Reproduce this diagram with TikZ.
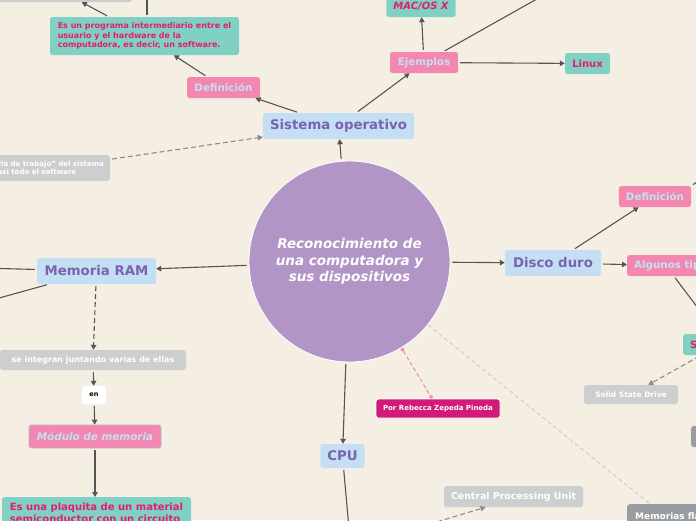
\documentclass[tikz,border=0pt]{standalone}
\usepackage{fontspec}
\setmainfont{DejaVu Sans}
\usetikzlibrary{arrows.meta}
\definecolor{bgcream}{HTML}{F5EFE3}
\definecolor{topicblue}{HTML}{C4DFF3}
\definecolor{topicpurple}{HTML}{7B62AE}
\definecolor{subpink}{HTML}{F387B0}
\definecolor{leafteal}{HTML}{80D0C4}
\definecolor{leafred}{HTML}{E31C6E}
\definecolor{notegray}{HTML}{CDCED0}
\definecolor{darkgray}{HTML}{989DA2}
\definecolor{circpurple}{HTML}{B295C7}
\definecolor{porpink}{HTML}{D11A7A}
\definecolor{pinkline}{HTML}{F08AB4}
\definecolor{linkgray}{HTML}{555555}
\definecolor{dashgray}{HTML}{8C8C8C}
\definecolor{faintgray}{HTML}{CACBCD}
\definecolor{modborder}{HTML}{B9B6CF}

\begin{document}
\begin{tikzpicture}[x=1pt,y=-1pt,
    box/.style={rounded corners=2.5pt, inner xsep=7pt, inner ysep=2pt},
    topic/.style={box, fill=topicblue, text=topicpurple, minimum height=26pt,
      font=\fontsize{13.3}{15}\selectfont\bfseries},
    sub/.style={box, fill=subpink, text=topicblue, minimum height=21pt,
      font=\fontsize{10.3}{12}\selectfont\bfseries},
    leaf/.style={box, fill=leafteal, text=leafred, minimum height=21pt,
      font=\fontsize{10}{12}\selectfont\bfseries},
    note/.style={box, fill=notegray, text=white,
      font=\fontsize{7.5}{9}\selectfont\bfseries},
    darknote/.style={box, fill=darkgray, text=white,
      font=\fontsize{9}{11}\selectfont\bfseries},
    link/.style={draw=linkgray, line width=1.1pt, shorten <=2pt,
      -{Triangle[length=5pt,width=5.5pt]}},
    dlink/.style={link, draw=dashgray, dash pattern=on 5pt off 3pt},
    plink/.style={draw=pinkline, line width=1pt, dash pattern=on 4pt off 2.5pt,
      {Circle[length=4pt]}-{Circle[length=4pt]}},
    faint/.style={draw=faintgray, line width=0.9pt, dash pattern=on 4pt off 3pt}]
  \useasboundingbox (0,0) rectangle (696,520);
  \clip (0,0) rectangle (696,520);
  \fill[bgcream] (0,0) rectangle (696,520);

  \node[circle, fill=circpurple, draw=white, line width=0.8pt, minimum size=201pt,
    text=white, align=center, font=\fontsize{13.5}{16.5}\selectfont\bfseries\itshape]
    (circ) at (349.5,261.5) {Reconocimiento de\\una computadora y\\sus dispositivos};

  \node[topic, minimum width=151pt] (sis) at (338.5,126) {Sistema operativo};
  \node[sub, minimum width=73pt] (defL) at (223.5,87.5) {Definición};
  \node[leaf, align=left, minimum width=189pt, minimum height=38pt,
    font=\fontsize{8}{9.6}\selectfont\bfseries] (tealA) at (144.5,36)
    {Es un programa intermediario entre el\\usuario y el hardware de la\\computadora, es decir, un software.};
  \node[note, minimum width=142pt, minimum height=22pt] (grayTop) at (61,-9) {};
  \node[sub, minimum width=68pt] (ejem) at (424,62.5) {Ejemplos};
  \node[leaf, minimum width=68pt, minimum height=22pt,
    font=\fontsize{10}{12}\selectfont\bfseries\itshape] (mac) at (421,6) {MAC/OS X};
  \node[leaf, minimum width=45pt] (linux) at (587.5,63.5) {Linux};
  \node[note, anchor=east, align=left, minimum height=26pt, inner xsep=6pt,
    font=\fontsize{7}{8.5}\selectfont\bfseries] (noteL) at (110,168)
    {ria de trabajo" del sistema\\asi todo el software};

  \node[topic, minimum width=119pt] (ram) at (96.5,271) {Memoria RAM};
  \node[note, minimum width=186pt, minimum height=20pt,
    font=\fontsize{8}{10}\selectfont\bfseries] (integ) at (93,360) {se integran juntando varias de ellas};
  \node[box, fill=white, text=black, minimum width=24pt, minimum height=18pt, inner xsep=3pt,
    font=\fontsize{6.5}{8}\selectfont\bfseries] (en) at (94,395) {en};
  \node[sub, draw=modborder, line width=0.8pt, minimum width=132pt, minimum height=23pt,
    font=\fontsize{10.4}{12}\selectfont\bfseries\itshape] (modulo) at (95,436.5) {Módulo de memoria};
  \node[leaf, anchor=north, align=left, minimum width=189pt, inner ysep=6pt] (tealB) at (96.5,497)
    {Es una plaquita de un material\\semiconductor con un circuito};

  \node[topic, minimum width=41pt, minimum height=24pt] (cpu) at (342.5,456) {CPU};
  \node[box, fill=porpink, draw=white, line width=0.8pt, text=white, minimum width=124pt,
    minimum height=19pt, font=\fontsize{7}{8.5}\selectfont\bfseries] (por) at (438,408.5)
    {Por Rebecca Zepeda Pineda};
  \node[note, minimum width=139pt, minimum height=21pt,
    font=\fontsize{9.4}{11}\selectfont\bfseries] (cpuU) at (513.5,496.5) {Central Processing Unit};
  \node[darknote, anchor=north west, minimum height=24pt, inner xsep=8pt] (memf) at (627,504) {Memorias flash};

  \node[topic, minimum width=96pt] (disco) at (553,263) {Disco duro};
  \node[sub, minimum width=70pt] (defR) at (655,196.5) {Definición};
  \node[sub, anchor=west] (alg) at (627,265.5) {Algunos tipos};
  \node[leaf, anchor=west, text width=60pt, align=left] (sBox) at (683,344.5) {S};
  \node[note, minimum width=94pt, minimum height=19pt] (ssd) at (631,394.5) {Solid State Drive};
  \node[darknote, anchor=west, minimum width=40pt, minimum height=21pt] (dkBox) at (691,436.5) {};

  \coordinate (topT) at (147,-30);
  \coordinate (ejT) at (560,-14);
  \coordinate (defRT) at (715,170);
  \coordinate (algT) at (710,324);
  \coordinate (ramA) at (-20,268);
  \coordinate (ramB) at (-20,303.3);
  \coordinate (cpuT) at (350,540);
  \coordinate (cpuUsrc) at (420,527);

  \draw[link] (circ) -- (sis);
  \draw[link] (sis) -- (defL);
  \draw[link] (defL) -- (tealA);
  \draw[link] (tealA) -- (grayTop);
  \draw[link] (tealA.north -| topT) -- (topT);
  \draw[link] (sis) -- (ejem);
  \draw[link] (ejem) -- (mac);
  \draw[link] (ejem) -- (linux);
  \draw[link] (ejem) -- (ejT);
  \draw[dlink] (noteL) -- (sis);
  \draw[link] (circ) -- (ram);
  \draw[link] (ram) -- (ramA);
  \draw[link] (ram) -- (ramB);
  \draw[link, dash pattern=on 5pt off 3pt] (ram) -- (integ);
  \draw[link] (integ) -- (en);
  \draw[link] (en) -- (modulo);
  \draw[link] (modulo) -- (modulo |- tealB.north);
  \draw[link] (circ) -- (cpu);
  \draw[link] (cpu) -- (cpuT);
  \draw[plink] (circ) -- (por);
  \draw[dlink] (cpuUsrc) -- ([xshift=-28pt]cpuU.south);
  \draw[faint] (circ) -- ([xshift=23pt]memf.north west);
  \draw[link] (circ) -- (disco);
  \draw[link] (disco) -- (defR);
  \draw[link] (defR.north east) -- (defRT);
  \draw[link] (disco) -- (alg);
  \draw[link] (alg.south) -- (algT);
  \draw[dlink] (sBox) -- (ssd);
\end{tikzpicture}
\end{document}
